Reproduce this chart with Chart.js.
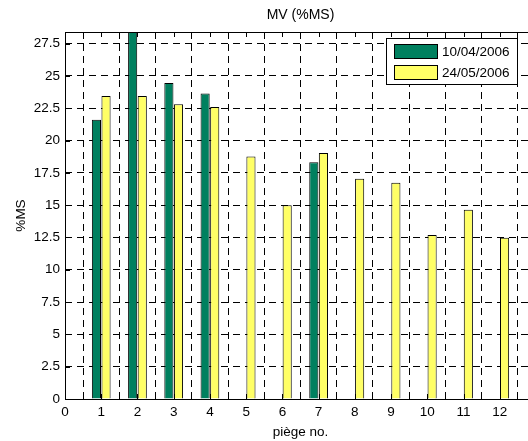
<!DOCTYPE html>
<html>
<head>
<meta charset="utf-8">
<title>MV (%MS)</title>
<script src="https://cdn.jsdelivr.net/npm/chart.js@4.4.1/dist/chart.umd.min.js"></script>
<style>
  html, body { margin: 0; padding: 0; background: #fff; overflow: hidden; }
  #wrap { width: 528px; height: 441px; overflow: hidden; }
  canvas { display: block; }
</style>
</head>
<body>
<div id="wrap"><canvas id="mvChart" width="546" height="441"></canvas></div>
<script>
// axe x : 0 .. 13, pièges 1 à 12
const xTicks = ['0', '1', '2', '3', '4', '5', '6', '7', '8', '9', '10', '11', '12', '13'];
const pieges = [1, 2, 3, 4, 5, 6, 7, 8, 9, 10, 11, 12];

// MV en %MS par piège, une série par date de prélèvement
const mv100406 = [21.6, 28.9, 24.45, 23.65, null, null, 18.33, null, null, null, null, null];
const mv240506 = [23.45, 23.45, 22.8, 22.6, 18.76, 15.0, 19.03, 17.04, 16.73, 12.7, 14.64, 12.47];

const seriesLabels = ['10/04/2006', '24/05/2006'];
const yTicks = [0, 2.5, 5, 7.5, 10, 12.5, 15, 17.5, 20, 22.5, 25, 27.5];
const yMax = 28.4;
const chartTitle = 'MV (%MS)';

const colors = {
  green: '#00805f',
  yellow: '#ffff66',
  edge: '#000000'
};

const fontFamily = '"Liberation Sans", Arial, sans-serif';
Chart.defaults.font.family = fontFamily;
Chart.defaults.font.size = 13.5;
Chart.defaults.color = '#000';

// place les valeurs sur les positions de l'axe (null aux extrémités)
function alignOnAxis(values) {
  return xTicks.map(t => {
    const i = pieges.indexOf(Number(t));
    return i >= 0 ? values[i] : null;
  });
}

// titre centré sur la zone de tracé
const axesTitle = {
  id: 'axesTitle',
  afterDraw(chart) {
    const { ctx, chartArea: a } = chart;
    ctx.save();
    ctx.font = '14px ' + fontFamily;
    ctx.fillStyle = '#000';
    ctx.textAlign = 'center';
    ctx.textBaseline = 'middle';
    ctx.fillText(chartTitle, (a.left + a.right) / 2, 15);
    ctx.restore();
  }
};

// cadre noir + petites graduations vers l'intérieur (style matlab)
const axesBox = {
  id: 'axesBox',
  afterDraw(chart) {
    const { ctx, chartArea: a, scales } = chart;
    const len = 5;
    ctx.save();
    ctx.strokeStyle = '#000';
    ctx.lineWidth = 1;
    ctx.setLineDash([]);
    ctx.beginPath();
    scales.x.ticks.forEach((t, i) => {
      const x = Math.round(scales.x.getPixelForTick(i)) + 0.5;
      ctx.moveTo(x, a.bottom);
      ctx.lineTo(x, a.bottom - len);
      ctx.moveTo(x, a.top);
      ctx.lineTo(x, a.top + len);
    });
    scales.y.ticks.forEach(t => {
      const y = Math.round(scales.y.getPixelForValue(t.value)) + 0.5;
      ctx.moveTo(a.left, y);
      ctx.lineTo(a.left + len, y);
      ctx.moveTo(a.right, y);
      ctx.lineTo(a.right - len, y);
    });
    ctx.stroke();
    ctx.strokeRect(Math.round(a.left) + 0.5, Math.round(a.top) + 0.5,
      Math.round(a.right - a.left), Math.round(a.bottom - a.top));
    ctx.restore();
  }
};

// légende encadrée en haut à droite
const boxLegend = {
  id: 'boxLegend',
  afterDraw(chart) {
    const { ctx } = chart;
    const x0 = 386, y0 = 38, w = 131, h = 46;
    ctx.save();
    ctx.fillStyle = '#fff';
    ctx.fillRect(x0, y0, w, h);
    ctx.strokeStyle = '#000';
    ctx.lineWidth = 1;
    ctx.strokeRect(x0 + 0.5, y0 + 0.5, w, h);
    ctx.font = '13.5px ' + fontFamily;
    ctx.textBaseline = 'middle';
    chart.data.datasets.forEach((ds, i) => {
      const sy = y0 + 6 + i * 21;
      ctx.fillStyle = ds.backgroundColor;
      ctx.fillRect(x0 + 8, sy, 44, 15);
      ctx.strokeRect(x0 + 8.5, sy + 0.5, 43, 14);
      ctx.fillStyle = '#000';
      ctx.fillText(ds.label, x0 + 56, sy + 8);
    });
    ctx.restore();
  }
};

const dashedGrid = {
  color: '#000',
  lineWidth: 1,
  drawTicks: false
};

new Chart(document.getElementById('mvChart'), {
  type: 'bar',
  data: {
    labels: xTicks,
    datasets: [{
      label: seriesLabels[0],
      data: alignOnAxis(mv100406),
      backgroundColor: colors.green,
      borderColor: colors.edge,
      borderWidth: 1,
      clip: 0
    }, {
      label: seriesLabels[1],
      data: alignOnAxis(mv240506),
      backgroundColor: colors.yellow,
      borderColor: colors.edge,
      borderWidth: 1,
      clip: 0
    }]
  },
  options: {
    responsive: false,
    animation: false,
    devicePixelRatio: 1,
    categoryPercentage: 0.53,
    barPercentage: 0.95,
    layout: { padding: { left: 0, right: 10, top: 32, bottom: 0 } },
    scales: {
      x: {
        offset: false,
        grid: dashedGrid,
        border: { display: false, dash: [7, 5] },
        ticks: {
          padding: 5,
          maxRotation: 0,
          autoSkip: false,
          callback: (v, i) => (i === xTicks.length - 1 ? '' : xTicks[i])
        },
        title: { display: true, text: 'piège no.', padding: { top: 0, bottom: 1 } },
        afterFit: s => { s.height = 42; }
      },
      y: {
        min: 0,
        max: yMax,
        grid: dashedGrid,
        border: { display: false, dash: [7, 5] },
        ticks: { padding: 5, callback: v => String(v) },
        afterBuildTicks: s => { s.ticks = yTicks.map(v => ({ value: v })); },
        title: { display: true, text: '%MS', padding: { top: 13, bottom: 0 } },
        afterFit: s => { s.width = 65; }
      }
    },
    plugins: {
      legend: { display: false },
      tooltip: { enabled: false },
      title: { display: false }
    }
  },
  plugins: [axesTitle, axesBox, boxLegend]
});
</script>
</body>
</html>
